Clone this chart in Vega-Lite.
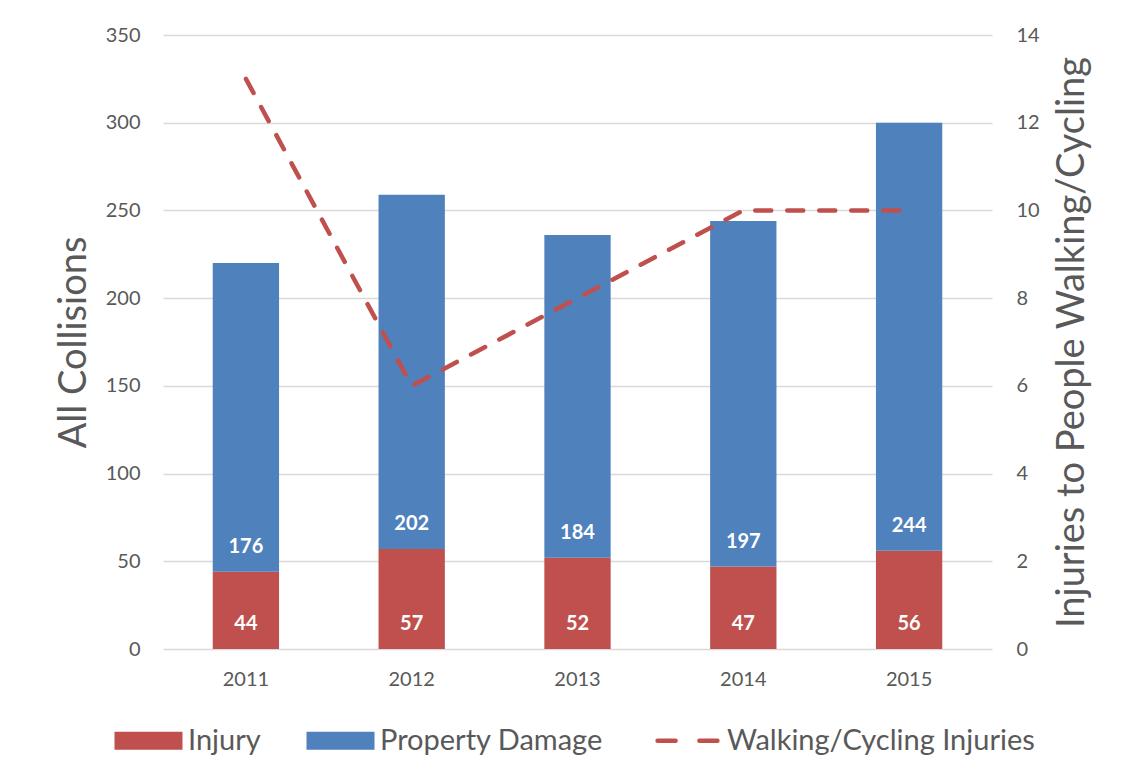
{
  "$schema": "https://vega.github.io/schema/vega-lite/v6.json",
  "width": 829,
  "height": 614,
  "autosize": {"type": "none"},
  "padding": {"left": 163, "top": 35, "right": 131, "bottom": 129},
  "background": "white",
  "config": {
    "font": "Lato",
    "view": {"stroke": null},
    "axis": {
      "labelColor": "#595959",
      "titleColor": "#595959",
      "labelFontSize": 20,
      "titleFontWeight": "normal",
      "ticks": false,
      "domain": false,
      "gridColor": "#D9D9D9",
      "gridWidth": 1.5
    }
  },
  "layer": [
    {
      "data": {
        "values": [
          {"year": "2011", "type": "Injury", "value": 44},
          {"year": "2011", "type": "Property Damage", "value": 176},
          {"year": "2012", "type": "Injury", "value": 57},
          {"year": "2012", "type": "Property Damage", "value": 202},
          {"year": "2013", "type": "Injury", "value": 52},
          {"year": "2013", "type": "Property Damage", "value": 184},
          {"year": "2014", "type": "Injury", "value": 47},
          {"year": "2014", "type": "Property Damage", "value": 197},
          {"year": "2015", "type": "Injury", "value": 56},
          {"year": "2015", "type": "Property Damage", "value": 244}
        ]
      },
      "transform": [
        {"stack": "value", "groupby": ["year"], "sort": [{"field": "type", "order": "ascending"}], "as": ["y0", "y1"]}
      ],
      "layer": [
        {
          "mark": {"type": "bar"},
          "encoding": {
            "x": {
              "field": "year", "type": "ordinal",
              "scale": {"paddingInner": 0.6, "paddingOuter": 0.3},
              "axis": {"title": null, "labelAngle": 0, "labelPadding": 20, "grid": false}
            },
            "y": {
              "field": "y0", "type": "quantitative",
              "scale": {"domain": [0, 350], "nice": false},
              "axis": {
                "values": [0, 50, 100, 150, 200, 250, 300, 350],
                "grid": true,
                "labelPadding": 23,
                "title": "All Collisions",
                "titleFontSize": 38,
                "titlePadding": 12
              }
            },
            "y2": {"field": "y1"},
            "color": {
              "field": "type", "type": "nominal",
              "scale": {
                "domain": ["Injury", "Property Damage", "Walking/Cycling Injuries"],
                "range": ["#C0504D", "#4F81BD", "#C0504D"]
              },
              "legend": {
                "title": null,
                "orient": "none",
                "direction": "horizontal",
                "legendX": -29,
                "legendY": 691,
                "labelFontSize": 29,
                "labelLimit": 500,
                "labelColor": "#595959",
                "symbolSize": 4624,
                "symbolType": "M-1,-0.265L1,-0.265L1,0.265L-1,0.265Z",
                "columnPadding": 45,
                "labelOffset": 25,
                "encode": {
                  "symbols": {
                    "update": {
                      "shape": {"signal": "datum.value === 'Walking/Cycling Injuries' ? 'M-0.88,0L-0.35,0M0.35,0L0.88,0' : 'M-1,-0.265L1,-0.265L1,0.265L-1,0.265Z'"},
                      "fill": {"signal": "datum.value === 'Walking/Cycling Injuries' ? 'transparent' : (datum.value === 'Injury' ? '#C0504D' : '#4F81BD')"},
                      "stroke": {"value": "#C0504D"},
                      "strokeWidth": {"signal": "datum.value === 'Walking/Cycling Injuries' ? 4.5 : 0"},
                      "strokeCap": {"value": "round"},
                      "strokeDash": {"value": [100, 0]},
                      "opacity": {"value": 1}
                    }
                  }
                }
              }
            }
          }
        },
        {
          "mark": {"type": "text", "color": "white", "fontWeight": "bold", "fontSize": 20, "baseline": "middle", "dy": -25},
          "encoding": {
            "x": {"field": "year", "type": "ordinal"},
            "y": {"field": "y0", "type": "quantitative"},
            "text": {"field": "value", "type": "quantitative"}
          }
        }
      ]
    },
    {
      "data": {
        "values": [
          {"year": "2011", "count": 13},
          {"year": "2012", "count": 6},
          {"year": "2013", "count": 8},
          {"year": "2014", "count": 10},
          {"year": "2015", "count": 10}
        ]
      },
      "mark": {"type": "line", "strokeDash": [16, 16], "strokeCap": "round", "strokeWidth": 4.5},
      "encoding": {
        "x": {"field": "year", "type": "ordinal"},
        "y": {
          "field": "count", "type": "quantitative",
          "scale": {"domain": [0, 14], "nice": false},
          "axis": {
            "orient": "right",
            "values": [0, 2, 4, 6, 8, 10, 12, 14],
            "grid": false,
            "labelPadding": 24,
            "title": "Injuries to People Walking/Cycling",
            "titleFontSize": 38,
            "titleAngle": 270,
            "titlePadding": 52
          }
        },
        "color": {"datum": "Walking/Cycling Injuries"}
      }
    }
  ],
  "resolve": {"scale": {"y": "independent"}}
}
